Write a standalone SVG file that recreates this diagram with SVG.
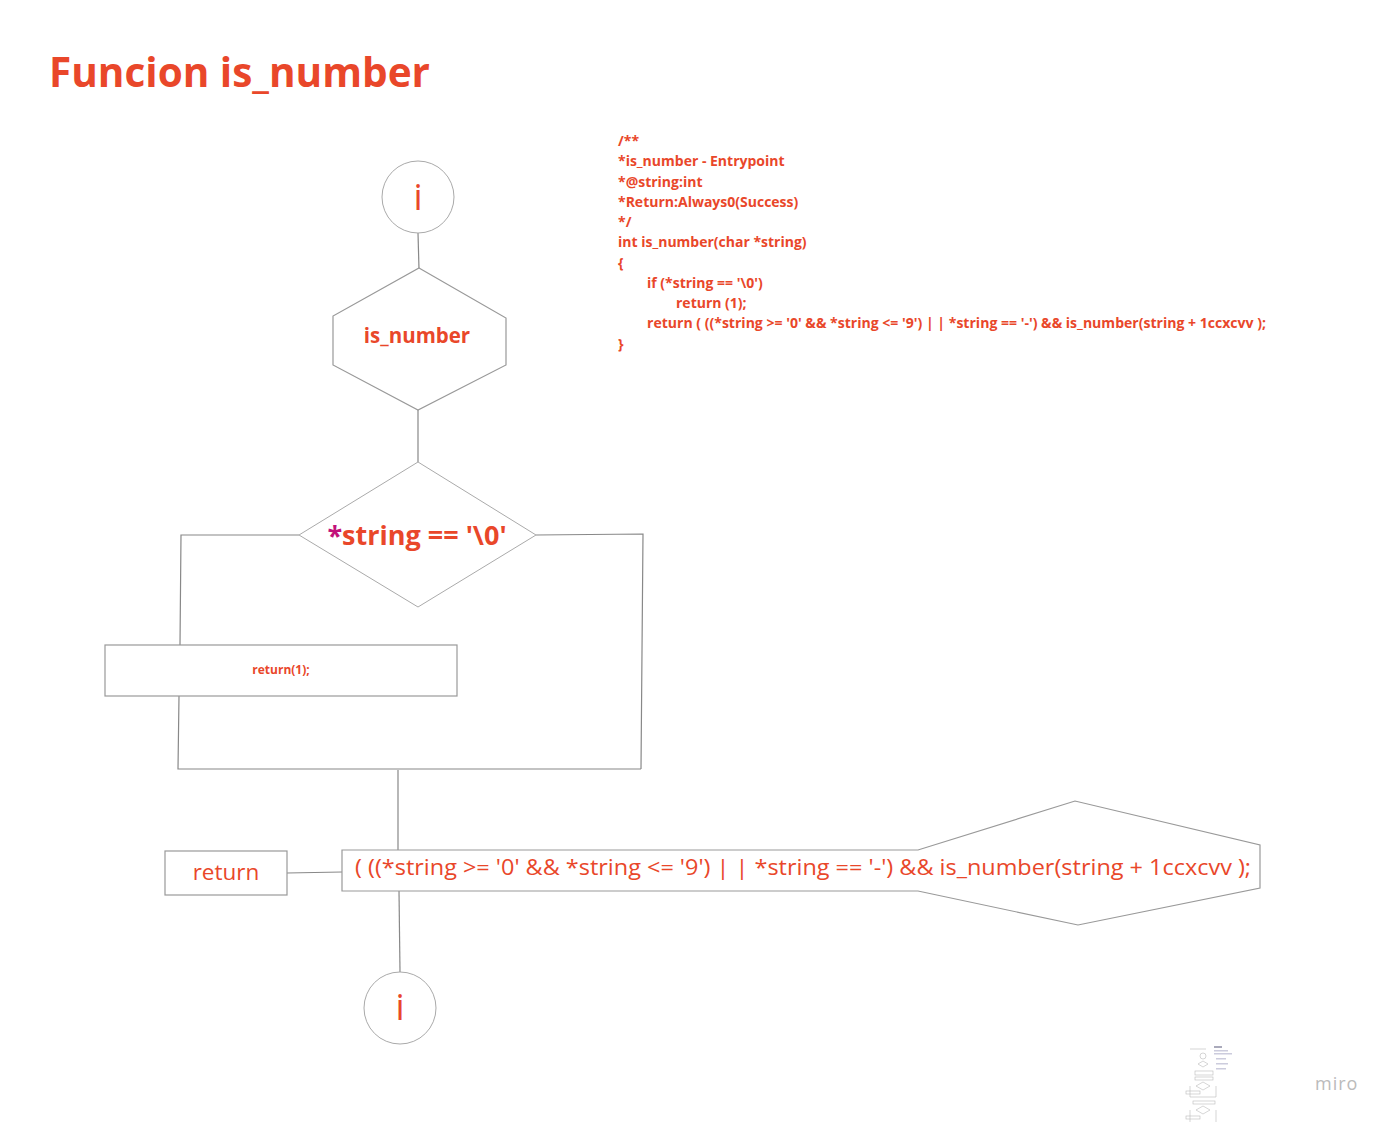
<svg xmlns="http://www.w3.org/2000/svg" width="1391" height="1122" viewBox="0 0 1391 1122">
<defs>
<style>
.t{font-family:"Open Sans","Liberation Sans",sans-serif;fill:#E9472A}
.b{font-weight:bold}
.s{fill:#fff;stroke:#999;stroke-width:1.2}
.c{fill:#fff;stroke:#aaa;stroke-width:1}
.ln{fill:none;stroke:#888;stroke-width:1.2}
.code{font-family:"Open Sans","Liberation Sans",sans-serif;font-weight:bold;font-size:14px;fill:#E9472A}
.mm{fill:none;stroke:#bbb;stroke-width:0.6}
</style>
</defs>
<rect width="1391" height="1122" fill="#fff"/>
<text class="t b" x="49" y="87" font-size="40.5">Funcion is_number</text>

<g id="code">
<text class="code" x="618" y="146">/**</text>
<text class="code" x="618" y="166">*is_number - Entrypoint</text>
<text class="code" x="618" y="187">*@string:int</text>
<text class="code" x="618" y="207">*Return:Always0(Success)</text>
<text class="code" x="618" y="227">*/</text>
<text class="code" x="618" y="247">int is_number(char *string)</text>
<text class="code" x="618" y="268">{</text>
<text class="code" x="647" y="288">if (*string == '\0')</text>
<text class="code" x="676" y="308">return (1);</text>
<text class="code" x="647" y="328" textLength="619" lengthAdjust="spacingAndGlyphs">return ( ((*string &gt;= '0' &amp;&amp; *string &lt;= '9') | | *string == '-') &amp;&amp; is_number(string + 1ccxcvv );</text>
<text class="code" x="618" y="349">}</text>
</g>

<g id="connectors">
<line class="ln" x1="418" y1="233" x2="419" y2="269"/>
<line class="ln" x1="418" y1="410" x2="418" y2="462"/>
<polyline class="ln" points="299,535 181,535 180,645"/>
<polyline class="ln" points="536,535 643,534 641,769"/>
<polyline class="ln" points="179,696 178,769 641,769"/>
<line class="ln" x1="398" y1="770" x2="398" y2="850"/>
<line class="ln" x1="287" y1="873" x2="342" y2="872"/>
<line class="ln" x1="399" y1="891" x2="400" y2="972"/>
</g>

<g id="start">
<circle class="c" cx="418" cy="197" r="36"/>
<text class="t" x="418" y="210" font-size="36" text-anchor="middle">i</text>
</g>

<g id="is_number">
<polygon class="s" points="419,268 506,318 506,365 418,410 333,365 333,316"/>
<text class="t b" x="417" y="343" font-size="20.5" text-anchor="middle">is_number</text>
</g>

<g id="decision">
<polygon class="c" points="418,462 536,535 418,607 299,535"/>
<text class="t b" x="417" y="545" font-size="27" text-anchor="middle"><tspan fill="#C2127A">*</tspan>string == '\0'</text>
</g>

<g id="return1">
<rect class="s" x="105" y="645" width="352" height="51"/>
<text class="t b" x="281" y="674" font-size="12" text-anchor="middle">return(1);</text>
</g>

<g id="return-label">
<rect class="s" x="165" y="851" width="122" height="44"/>
<text class="t" x="226" y="880" font-size="22.5" text-anchor="middle">return</text>
</g>

<g id="expression">
<polygon class="s" points="342,850 918,850 1075,801 1260,845 1260,888 1078,925 918,891 342,891"/>
<text class="t" x="355" y="875" font-size="22" textLength="896" lengthAdjust="spacingAndGlyphs">( ((*string &gt;= '0' &amp;&amp; *string &lt;= '9') | | *string == '-') &amp;&amp; is_number(string + 1ccxcvv );</text>
</g>

<g id="end">
<circle class="c" cx="400" cy="1008" r="36"/>
<text class="t" x="400" y="1020" font-size="36" text-anchor="middle">i</text>
</g>

<g id="minimap">
<line class="mm" x1="1190" y1="1049" x2="1206" y2="1049"/>
<rect x="1214" y="1046" width="8" height="2" fill="#aab"/>
<rect x="1214" y="1050" width="14" height="1.5" fill="#ccd"/>
<rect x="1214" y="1053" width="18" height="1.5" fill="#ccd"/>
<rect x="1216" y="1058" width="10" height="1.5" fill="#ccd"/>
<rect x="1216" y="1063" width="12" height="1.5" fill="#ccd"/>
<rect x="1216" y="1068" width="10" height="1.5" fill="#ccd"/>
<circle class="mm" cx="1203" cy="1056" r="3"/>
<polygon class="mm" points="1203,1061 1208,1064 1203,1067 1198,1064"/>
<rect class="mm" x="1195" y="1071" width="18" height="4"/>
<rect class="mm" x="1195" y="1077" width="18" height="3"/>
<polygon class="mm" points="1203,1082 1210,1086 1203,1090 1196,1086"/>
<polyline class="mm" points="1190,1086 1190,1097 1216,1097 1216,1086"/>
<rect class="mm" x="1186" y="1091" width="14" height="3"/>
<rect class="mm" x="1193" y="1101" width="22" height="3"/>
<polygon class="mm" points="1203,1106 1210,1110 1203,1114 1196,1110"/>
<polyline class="mm" points="1190,1110 1190,1122"/>
<polyline class="mm" points="1216,1110 1216,1122"/>
<rect class="mm" x="1186" y="1116" width="14" height="3"/>
</g>
<text x="1315" y="1090" font-family="Open Sans, Liberation Sans, sans-serif" font-size="18" fill="#bbb" letter-spacing="1">miro</text>
</svg>
